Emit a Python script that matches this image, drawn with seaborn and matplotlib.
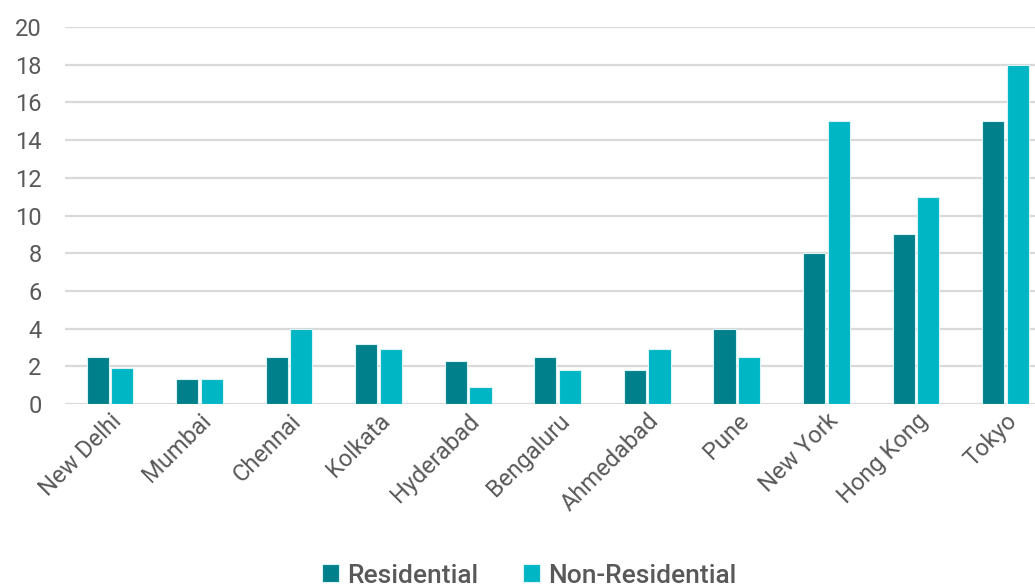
import matplotlib
matplotlib.use("Agg")
import matplotlib.pyplot as plt
import seaborn as sns
import pandas as pd

cities = ["New Delhi", "Mumbai", "Chennai", "Kolkata", "Hyderabad", "Bengaluru",
          "Ahmedabad", "Pune", "New York", "Hong Kong", "Tokyo"]
residential = [2.5, 1.3, 2.5, 3.2, 2.3, 2.5, 1.8, 4.0, 8.0, 9.0, 15.0]
non_residential = [1.9, 1.3, 4.0, 2.9, 0.9, 1.8, 2.9, 2.5, 15.0, 11.0, 18.0]
series_names = ["Residential", "Non-Residential"]
y_ticks = [0, 2, 4, 6, 8, 10, 12, 14, 16, 18, 20]

df = pd.DataFrame({
    "city": cities * 2,
    "value": residential + non_residential,
    "type": [series_names[0]] * len(cities) + [series_names[1]] * len(cities),
})

sns.set_theme(style="white")
plt.rcParams['font.family'] = ['Roboto', 'DejaVu Sans']
text_color = "#595959"

fig = plt.figure(figsize=(10.35, 5.88), dpi=100)
ax = fig.add_axes([0.063, 0.313, 0.937, 0.641])

sns.barplot(data=df, x="city", y="value", hue="type", order=cities,
            hue_order=series_names, palette=["#00808A", "#00B5C4"],
            saturation=1, width=0.55, gap=0.1, edgecolor="#d8f4f6", linewidth=0.8,
            ax=ax, legend=True)

ax.set_ylim(0, 20)
ax.set_yticks(y_ticks)
ax.set_xlim(-0.5, 10.33)
ax.yaxis.grid(True, color="#d9d9d9", linewidth=1.6)
ax.set_axisbelow(True)
for s in ax.spines.values():
    s.set_visible(False)
ax.set_xlabel("")
ax.set_ylabel("")
ax.tick_params(axis="y", labelsize=17, labelcolor=text_color, length=0, pad=17)
ax.tick_params(axis="x", labelsize=17, labelcolor=text_color, length=0, pad=4)
plt.setp(ax.get_xticklabels(), rotation=45, ha="right", rotation_mode="anchor")

leg = ax.legend(loc="lower center", bbox_to_anchor=(0.478, -0.55), ncol=2,
                frameon=False, fontsize=19, handlelength=0.65, handleheight=0.65,
                handletextpad=0.3, columnspacing=1.7)
for t in leg.get_texts():
    t.set_color(text_color)
    t.set_fontweight("medium")

fig.savefig("out.png", dpi=100)
